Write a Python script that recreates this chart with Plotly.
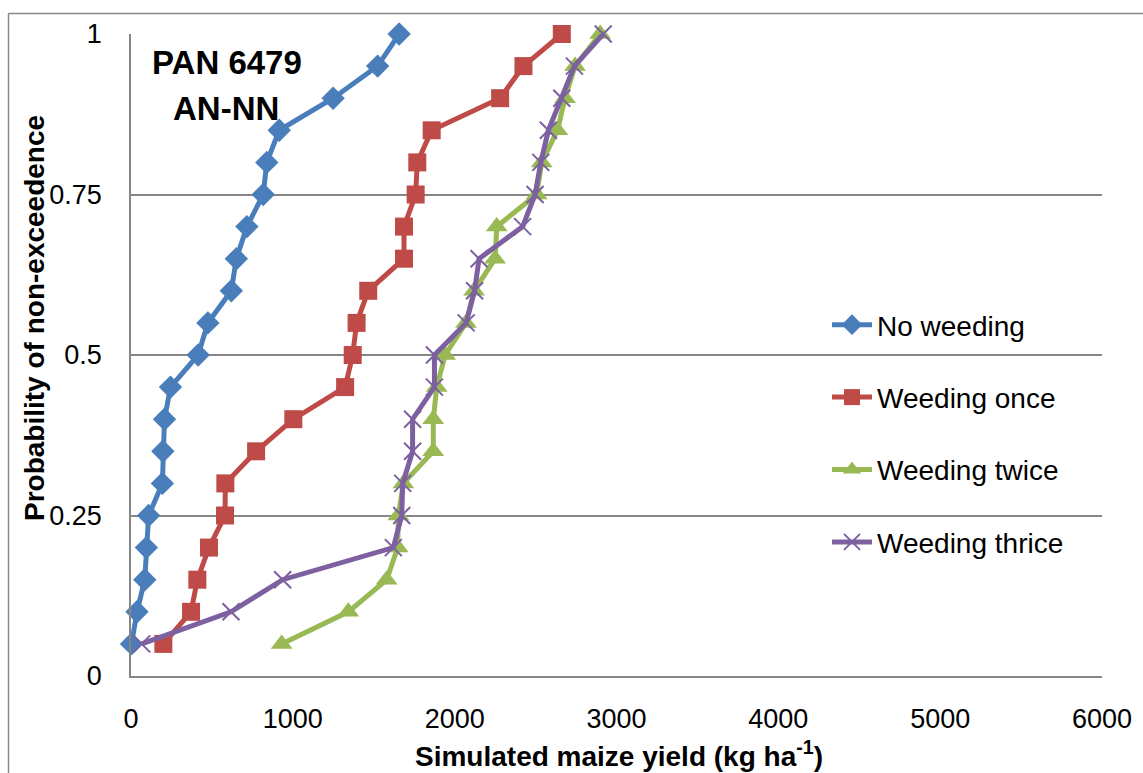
import plotly.graph_objects as go

# ---- data ----
probability = [0.05, 0.10, 0.15, 0.20, 0.25, 0.30, 0.35, 0.40, 0.45, 0.50,
               0.55, 0.60, 0.65, 0.70, 0.75, 0.80, 0.85, 0.90, 0.95, 1.00]
no_weeding = [3, 37, 85, 95, 109, 194, 197, 207, 244, 415,
              475, 620, 651, 716, 817, 839, 916, 1249, 1524, 1657]
weeding_once = [200, 371, 410, 482, 581, 583, 773, 1003, 1323, 1370,
                1394, 1466, 1687, 1687, 1759, 1769, 1858, 2281, 2425, 2662]
weeding_twice = [931, 1343, 1580, 1648, 1652, 1683, 1868, 1868, 1889, 1941,
                 2070, 2120, 2250, 2260, 2507, 2538, 2635, 2682, 2744, 2899]
weeding_thrice = [66, 618, 937, 1621, 1673, 1679, 1740, 1740, 1875, 1875,
                  2071, 2123, 2151, 2420, 2497, 2532, 2579, 2662, 2740, 2918]

series_names = ["No weeding", "Weeding once", "Weeding twice", "Weeding thrice"]
x_ticks = [0, 1000, 2000, 3000, 4000, 5000, 6000]
y_ticks = [0, 0.25, 0.5, 0.75, 1]
y_tick_text = ["0", "0.25", "0.5", "0.75", "1"]

FONT = "Liberation Sans, Arial, sans-serif"
GRID = "#868686"

W, H = 1143, 773
L, R, T, B = 131, 41, 34, 97
pw, ph = W - L - R, H - T - B

def px_x(p):
    return (p - L) / pw

def px_y(p):
    return (H - B - p) / ph

fig = go.Figure()

styles = [
    dict(color="#4A7EBB", symbol="diamond", size=18, lw=5),
    dict(color="#BE4B48", symbol="square", size=18, lw=5),
    dict(color="#98B954", symbol="triangle-up", size=19, lw=5),
    dict(color="#7D60A0", symbol="x-thin", size=17, lw=5),
]
data = [no_weeding, weeding_once, weeding_twice, weeding_thrice]

for name, xs, st in zip(series_names, data, styles):
    if st["symbol"] == "x-thin":
        marker = dict(symbol="x-thin", size=st["size"],
                      line=dict(color=st["color"], width=2), color=st["color"])
    else:
        marker = dict(symbol=st["symbol"], size=st["size"], color=st["color"],
                      line=dict(width=0))
    fig.add_trace(go.Scatter(
        x=xs, y=probability, name=name, mode="lines+markers",
        line=dict(color=st["color"], width=st["lw"]),
        marker=marker, cliponaxis=False, legendgroup=name,
    ))

fig.update_layout(
    width=W, height=H,
    margin=dict(l=L, r=R, t=T, b=B),
    paper_bgcolor="white", plot_bgcolor="white",
    font=dict(family=FONT, color="black", size=27),
    showlegend=True,
    legend=dict(
        x=px_x(827), y=px_y(300), xanchor="left", yanchor="top",
        font=dict(family=FONT, size=28, color="black"),
        bgcolor="rgba(0,0,0,0)", tracegroupgap=33, itemwidth=40,
    ),
    xaxis=dict(
        range=[0, 6000], tickvals=x_ticks, ticktext=[str(v) for v in x_ticks],
        showgrid=False, zeroline=False, showline=True, linecolor=GRID, linewidth=1.5,
        ticks="outside", ticklen=18, tickcolor="rgba(0,0,0,0)",
        tickfont=dict(family=FONT, size=27, color="black"),
    ),
    yaxis=dict(
        range=[0, 1], tickvals=y_ticks, ticktext=y_tick_text,
        showgrid=True, gridcolor=GRID, gridwidth=1.5,
        zeroline=False, showline=True, linecolor=GRID, linewidth=1.5,
        ticks="outside", ticklen=22, tickcolor="rgba(0,0,0,0)",
        tickfont=dict(family=FONT, size=27, color="black"),
    ),
)

# outer chart-area border (top and left edges visible)
fig.add_shape(type="line", xref="paper", yref="paper",
              x0=px_x(8.5), x1=px_x(1143), y0=px_y(13.5), y1=px_y(13.5),
              line=dict(color=GRID, width=1.5), layer="below")
fig.add_shape(type="line", xref="paper", yref="paper",
              x0=px_x(8.5), x1=px_x(8.5), y0=px_y(13.5), y1=px_y(773),
              line=dict(color=GRID, width=1.5), layer="below")

# axis titles
fig.add_annotation(xref="paper", yref="paper", x=px_x(619), y=px_y(754),
                   text="<b>Simulated maize yield (kg ha<sup>-1</sup>)</b>",
                   showarrow=False, font=dict(family=FONT, size=28, color="black"),
                   xanchor="center", yanchor="middle")
fig.add_annotation(xref="paper", yref="paper", x=px_x(34), y=px_y(318),
                   text="<b>Probability of non-exceedence</b>", textangle=-90,
                   showarrow=False, font=dict(family=FONT, size=28, color="black"),
                   xanchor="center", yanchor="middle")

# inset label
fig.add_annotation(xref="paper", yref="paper", x=px_x(227), y=px_y(63),
                   text="<b>PAN 6479</b>", showarrow=False,
                   font=dict(family=FONT, size=33, color="black"),
                   xanchor="center", yanchor="middle")
fig.add_annotation(xref="paper", yref="paper", x=px_x(226), y=px_y(108),
                   text="<b>AN-NN</b>", showarrow=False,
                   font=dict(family=FONT, size=33, color="black"),
                   xanchor="center", yanchor="middle")

fig.write_html("out.html")
